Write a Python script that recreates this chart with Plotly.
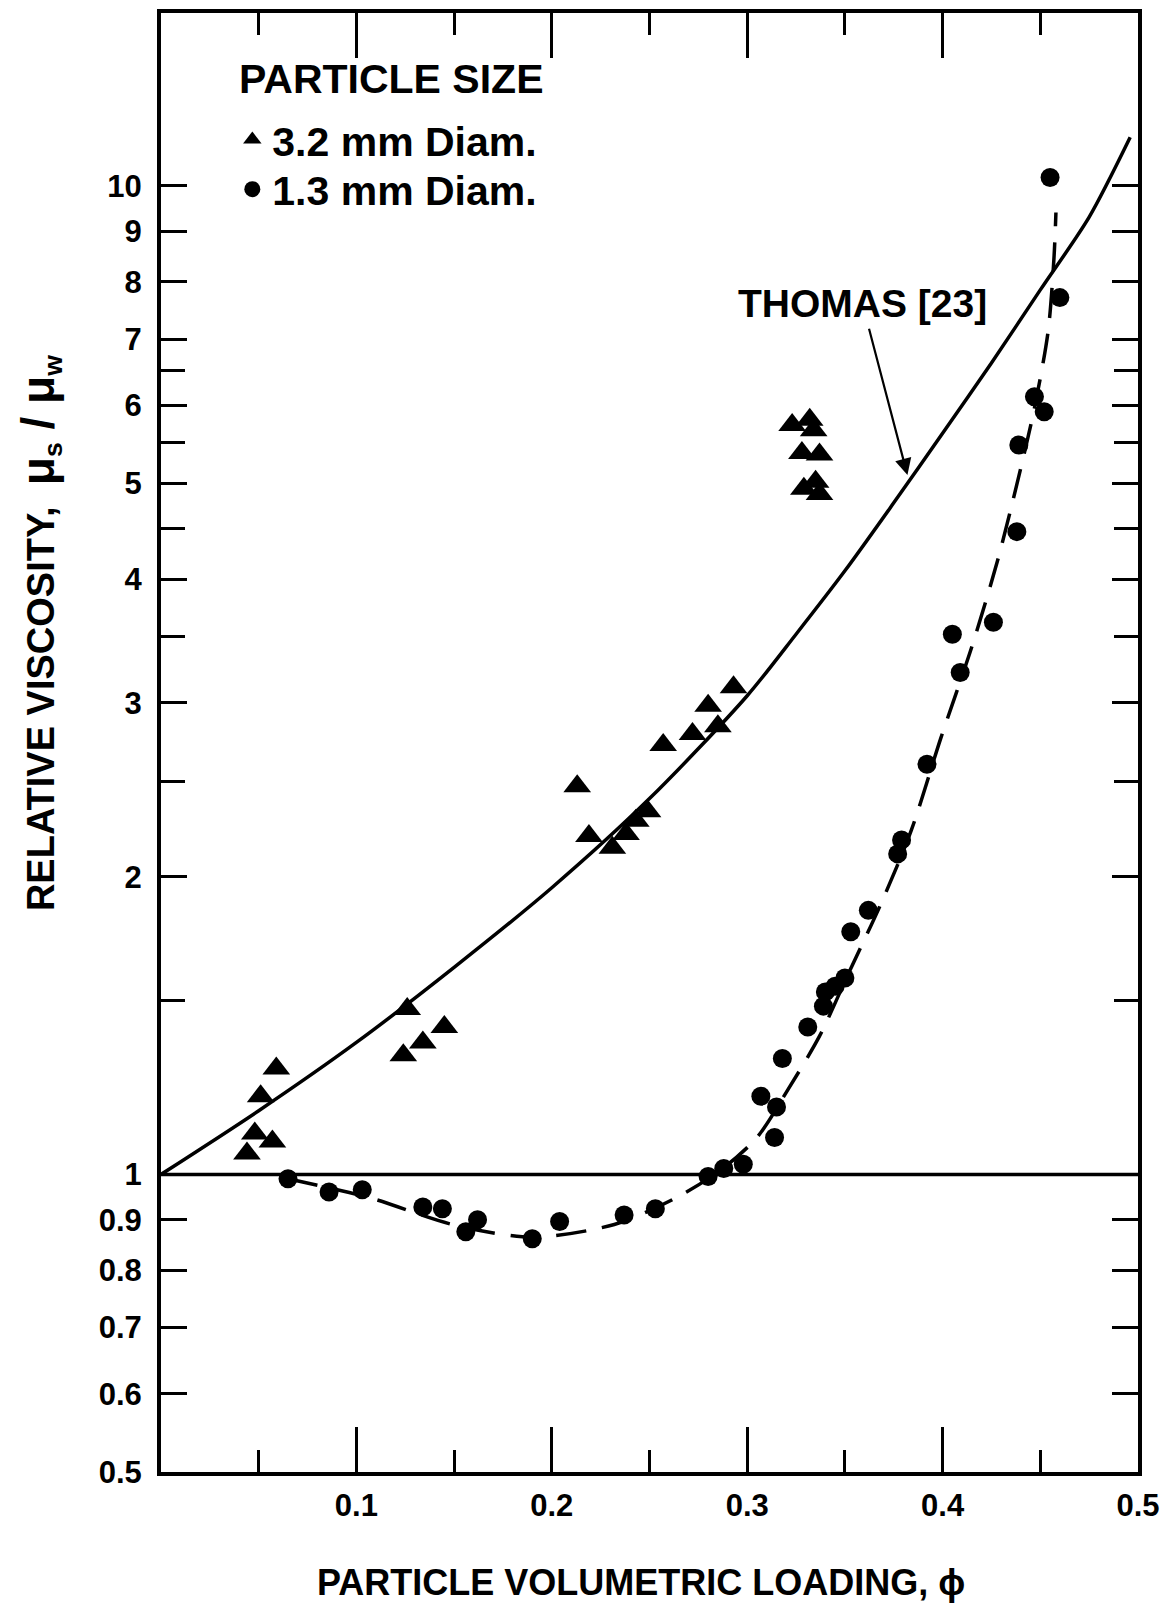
import math
import plotly.graph_objects as go

# ---- data ----
tri_phi = [0.044, 0.048, 0.051, 0.057, 0.059, 0.126, 0.124, 0.134, 0.145,
           0.213, 0.219, 0.231, 0.238, 0.243, 0.249, 0.257, 0.272, 0.280, 0.285, 0.293,
           0.323, 0.332, 0.334, 0.328, 0.337, 0.329, 0.335, 0.337]
tri_mu = [1.05, 1.10, 1.20, 1.08, 1.28, 1.47, 1.32, 1.36, 1.41,
          2.47, 2.20, 2.14, 2.21, 2.28, 2.33, 2.72, 2.79, 2.98, 2.84, 3.11,
          5.73, 5.80, 5.66, 5.37, 5.35, 4.94, 5.02, 4.88]

dot_phi = [0.065, 0.086, 0.103, 0.134, 0.144, 0.156, 0.162, 0.190, 0.204, 0.237, 0.253,
           0.280, 0.288, 0.298, 0.307, 0.314, 0.315, 0.318, 0.331, 0.339, 0.340, 0.345,
           0.350, 0.353, 0.362, 0.377, 0.379, 0.392, 0.405, 0.409, 0.426, 0.438, 0.439,
           0.447, 0.452, 0.460, 0.455]
dot_mu = [0.99, 0.96, 0.965, 0.927, 0.923, 0.875, 0.90, 0.861, 0.896, 0.91, 0.923,
          0.995, 1.014, 1.024, 1.20, 1.09, 1.17, 1.31, 1.41, 1.48, 1.53, 1.55,
          1.58, 1.76, 1.85, 2.11, 2.18, 2.60, 3.52, 3.22, 3.62, 4.47, 5.47,
          6.12, 5.91, 7.71, 10.2]

# THOMAS [23] curve
thomas_phi = [0.0, 0.05, 0.10, 0.15, 0.20, 0.25, 0.30, 0.325, 0.35, 0.375, 0.40,
              0.425, 0.45, 0.475, 0.496]
thomas_mu = [1.0, 1.16, 1.36, 1.62, 1.95, 2.40, 3.05, 3.52, 4.08, 4.78, 5.62,
             6.62, 7.85, 9.3, 11.2]

# dashed fit through the 1.3 mm data
fit_phi = [0.065, 0.107, 0.149, 0.190, 0.232, 0.264, 0.287, 0.305, 0.321, 0.337, 0.352,
           0.368, 0.384, 0.399, 0.415, 0.428, 0.438, 0.447, 0.454, 0.457, 0.458]
fit_mu = [0.99, 0.947, 0.89, 0.864, 0.89, 0.948, 1.012, 1.09, 1.22, 1.38, 1.60,
          1.87, 2.23, 2.76, 3.42, 4.17, 4.99, 5.96, 7.13, 8.46, 9.4]

# annotation anchor (arrow tip on curve and label position)
thomas_label_phi, thomas_label_mu = 0.359, 7.6
thomas_tip_phi, thomas_tip_mu = 0.382, 5.1

x_ticks = [0.1, 0.2, 0.3, 0.4, 0.5]
x_ticktext = ["0.1", "0.2", "0.3", "0.4", "0.5"]
x_minor = [0.05, 0.15, 0.25, 0.35, 0.45]
y_ticks = [0.5, 0.6, 0.7, 0.8, 0.9, 1, 2, 3, 4, 5, 6, 7, 8, 9, 10]
y_ticktext = ["0.5", "0.6", "0.7", "0.8", "0.9", "1", "2", "3", "4", "5", "6", "7", "8", "9", "10"]
y_minor = [1.5, 2.5, 3.5, 4.5, 5.5, 6.5]

FONT = "Liberation Sans"
BLACK = "#000000"

fig = go.Figure()

fig.add_trace(go.Scatter(x=thomas_phi, y=thomas_mu, mode="lines",
                         line=dict(color=BLACK, width=3.5, shape="spline", smoothing=0.8),
                         showlegend=False, hoverinfo="skip"))
fig.add_trace(go.Scatter(x=fit_phi, y=fit_mu, mode="lines",
                         line=dict(color=BLACK, width=3.5, shape="spline", smoothing=0.8,
                                   dash="30px,16px"),
                         showlegend=False, hoverinfo="skip"))
fig.add_trace(go.Scatter(x=tri_phi, y=tri_mu, mode="markers", name="3.2 mm Diam.",
                         marker=dict(symbol="triangle-up", size=24, color=BLACK),
                         legend="legend"))
fig.add_trace(go.Scatter(x=dot_phi, y=dot_mu, mode="markers", name="1.3 mm Diam.",
                         marker=dict(symbol="circle", size=19, color=BLACK),
                         legend="legend2"))

fig.add_hline(y=1, line=dict(color=BLACK, width=3.5))

fig.add_annotation(x=thomas_tip_phi, y=math.log10(thomas_tip_mu),
                   ax=thomas_label_phi, ay=math.log10(thomas_label_mu),
                   xref="x", yref="y", axref="x", ayref="y",
                   text="THOMAS [23]", showarrow=True, arrowhead=2, arrowsize=1.5, arrowwidth=2.2,
                   arrowcolor=BLACK, standoff=0, startstandoff=2,
                   font=dict(family=FONT, size=39, color=BLACK, weight="bold"))

fig.add_annotation(xref="paper", yref="paper", x=0.078, y=0.955, xanchor="left", yanchor="middle",
                   text="PARTICLE SIZE", showarrow=False,
                   font=dict(family=FONT, size=41, color=BLACK, weight="bold"))

fig.add_annotation(xref="paper", yref="paper", x=0.0, y=0.575, xshift=-121, textangle=-90,
                   text=("RELATIVE VISCOSITY,  <span style='font-size:46px'>μ</span>"
                         "<sub>s</sub><span style='font-size:46px'> / μ</span><sub>w</sub>"),
                   showarrow=False, xanchor="center", yanchor="middle",
                   font=dict(family=FONT, size=38, color=BLACK, weight="bold"))
fig.add_annotation(xref="paper", yref="paper", x=0.491, y=0.0, yshift=-110,
                   text="PARTICLE VOLUMETRIC LOADING, ϕ", showarrow=False,
                   xanchor="center", yanchor="middle",
                   font=dict(family=FONT, size=36, color=BLACK, weight="bold"))

legend_common = dict(xanchor="left", yanchor="top",
                     font=dict(family=FONT, size=41, weight="bold", color=BLACK),
                     bgcolor="rgba(0,0,0,0)", itemsizing="trace", itemwidth=30)

fig.update_layout(
    width=1174, height=1604,
    margin=dict(l=153, r=44, t=1, b=140),
    paper_bgcolor="white", plot_bgcolor="white",
    font=dict(family=FONT, color=BLACK),
    legend=dict(x=0.073, y=0.936, **legend_common),
    legend2=dict(x=0.073, y=0.902, **legend_common),
    xaxis=dict(range=[0, 0.5], showgrid=False, zeroline=False,
               showline=True, linecolor=BLACK, linewidth=4, mirror="ticks",
               ticks="inside", ticklen=45, tickwidth=3, tickcolor=BLACK,
               tickvals=x_ticks, ticktext=x_ticktext,
               tickfont=dict(family=FONT, size=31, color=BLACK, weight="bold"),
               ticklabelstandoff=3,
               minor=dict(tickvals=x_minor, ticks="inside", ticklen=22, tickwidth=3,
                          tickcolor=BLACK, showgrid=False)),
    yaxis=dict(type="log", range=[-0.30103, 1.175], showgrid=False, zeroline=False,
               showline=True, linecolor=BLACK, linewidth=4, mirror="ticks",
               ticks="inside", ticklen=26, tickwidth=3, tickcolor=BLACK,
               tickvals=y_ticks, ticktext=y_ticktext,
               tickfont=dict(family=FONT, size=31, color=BLACK, weight="bold"),
               ticklabelstandoff=9,
               minor=dict(tickvals=y_minor, ticks="inside", ticklen=24, tickwidth=3,
                          tickcolor=BLACK, showgrid=False)),
)

fig.write_html("out.html")
